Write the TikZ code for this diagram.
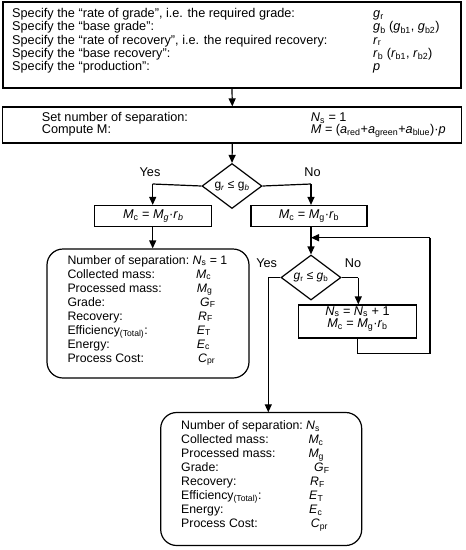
\documentclass[tikz,border=0pt]{standalone}
\usepackage{fontspec}
\setmainfont{Liberation Sans}
\usetikzlibrary{shapes.geometric,arrows.meta}
\newcommand\sbs[1]{\textsubscript{#1}}
\begin{document}
\begin{tikzpicture}[x=1pt,y=-1pt,
  box/.style={draw,line width=1.2pt,rectangle,inner sep=0pt},
  rbox/.style={box,rounded corners=16pt},
  dec/.style={draw,diamond,line width=1.2pt,inner sep=0pt,minimum width=60pt,minimum height=45pt},
  txt/.style={anchor=base west,inner sep=0pt,font=\fontsize{12.7}{14}\selectfont},
  rtxt/.style={anchor=base west,inner sep=0pt,font=\fontsize{12.3}{14}\selectfont},
  ctxt/.style={anchor=base,inner sep=0pt,font=\fontsize{12.7}{14}\selectfont},
  lbl/.style={inner sep=0pt,font=\fontsize{12.7}{14}\selectfont},
  wire/.style={line width=1.2pt},
  conn/.style={line width=1.2pt,-{Triangle[length=8pt,width=7pt]}}]
\useasboundingbox (0,0) rectangle (466,550);
% boxes
\node[box,minimum width=458pt,minimum height=86pt] (spec) at (232,45) {};
\node[box,minimum width=459pt,minimum height=36pt] (init) at (232.3,125) {};
\node[dec] (d1) at (232,186) {\fontsize{12}{13}\selectfont g\sbs{\textit{r}} ≤ g\sbs{\textit{b}}};
\node[box,minimum width=117pt,minimum height=21pt] (mcL) at (153.3,216) {\fontsize{12.7}{14}\selectfont\textit{M}\sbs{c} = \textit{M}\sbs{\textit{g}}·\textit{r}\sbs{\textit{b}}};
\node[box,minimum width=116pt,minimum height=21pt] (mcR) at (309,216) {\fontsize{12.7}{14}\selectfont\textit{M}\sbs{c} = \textit{M}\sbs{g}·\textit{r}\sbs{b}};
\node[rbox,minimum width=202pt,minimum height=129pt] (resL) at (148,313.5) {};
\node[dec] (d2) at (311,277.5) {\fontsize{12}{13}\selectfont\textit{g}\sbs{r} ≤ \textit{g}\sbs{b}};
\node[box,minimum width=118pt,minimum height=33pt] (loop) at (357.5,321.5) {};
\node[rbox,minimum width=201pt,minimum height=133pt] (resB) at (261.2,479) {};
% labels
\node[lbl] (yes1) at (150,172.5) {Yes};
\node[lbl] (no1) at (312.5,172.5) {No};
\node[lbl] (yes2) at (266.7,263) {Yes};
\node[lbl] (no2) at (353,263) {No};
% top box text
\node[txt] (s1) at (12,17.3) {Specify the “rate of grade”, i.e. the required grade:};
\node[txt] (s2) at (12,30.7) {Specify the “base grade”:};
\node[txt] (s3) at (12,44) {Specify the “rate of recovery”, i.e. the required recovery:};
\node[txt] (s4) at (12,57.3) {Specify the “base recovery”:};
\node[txt] (s5) at (12,70.7) {Specify the “production”:};
\node[txt] (v1) at (373,17.3) {\textit{g}\sbs{r}};
\node[txt] (v2) at (373,30.7) {\textit{g}\sbs{b} (\textit{g}\sbs{b1}, \textit{g}\sbs{b2})};
\node[txt] (v3) at (373,44) {\textit{r}\sbs{r}};
\node[txt] (v4) at (373,57.3) {\textit{r}\sbs{b} (\textit{r}\sbs{b1}, \textit{r}\sbs{b2})};
\node[txt] (v5) at (373,70.7) {\textit{p}};
% init text
\node[txt] (i1) at (41.7,121.2) {Set number of separation:};
\node[txt] (i2) at (41.7,133.6) {Compute M:};
\node[txt] (j1) at (310.7,121.2) {\textit{N}\sbs{s} = 1};
\node[txt] (j2) at (310.7,133.6) {\textit{M} = (\textit{a}\sbs{red}+\textit{a}\sbs{green}+\textit{a}\sbs{blue})·\textit{p}};
% loop text
\node[ctxt] (l1) at (357.5,315) {\textit{N}\sbs{s} = \textit{N}\sbs{s} + 1};
\node[ctxt] (l2) at (357.5,327.5) {\textit{M}\sbs{c} = \textit{M}\sbs{g}·\textit{r}\sbs{b}};
% left result text
\node[rtxt] (a1) at (67.3,264) {Number of separation:};
\node[rtxt] (a2) at (67.3,278) {Collected mass:};
\node[rtxt] (a3) at (67.3,292) {Processed mass:};
\node[rtxt] (a4) at (67.3,306) {Grade:};
\node[rtxt] (a5) at (67.3,320) {Recovery:};
\node[rtxt] (a6) at (67.3,334) {Efficiency\sbs{(Total)}:};
\node[rtxt] (a7) at (67.3,348) {Energy:};
\node[rtxt] (a8) at (67.3,362) {Process Cost:};
\node[rtxt] (b1) at (192.5,264) {\textit{N}\sbs{s} = 1};
\node[rtxt] (b2) at (196,278) {\textit{M}\sbs{c}};
\node[rtxt] (b3) at (196.7,292) {\textit{M}\sbs{g}};
\node[rtxt] (b4) at (200,306) {\textit{G}\sbs{F}};
\node[rtxt] (b5) at (198,320) {\textit{R}\sbs{F}};
\node[rtxt] (b6) at (196.7,334) {\textit{E}\sbs{T}};
\node[rtxt] (b7) at (196.7,348) {\textit{E}\sbs{c}};
\node[rtxt] (b8) at (198,362) {\textit{C}\sbs{pr}};
% bottom result text
\node[rtxt] (c1) at (181,429.5) {Number of separation:};
\node[rtxt] (c2) at (181,443.5) {Collected mass:};
\node[rtxt] (c3) at (181,457.5) {Processed mass:};
\node[rtxt] (c4) at (181,471.5) {Grade:};
\node[rtxt] (c5) at (181,485.5) {Recovery:};
\node[rtxt] (c6) at (181,499.5) {Efficiency\sbs{(Total)}:};
\node[rtxt] (c7) at (181,513.5) {Energy:};
\node[rtxt] (c8) at (181,527.5) {Process Cost:};
\node[rtxt] (e1) at (306,429.5) {\textit{N}\sbs{s}};
\node[rtxt] (e2) at (308.3,443.5) {\textit{M}\sbs{c}};
\node[rtxt] (e3) at (308.3,457.5) {\textit{M}\sbs{g}};
\node[rtxt] (e4) at (314,471.5) {\textit{G}\sbs{F}};
\node[rtxt] (e5) at (310,485.5) {\textit{R}\sbs{F}};
\node[rtxt] (e6) at (309,499.5) {\textit{E}\sbs{T}};
\node[rtxt] (e7) at (309,513.5) {\textit{E}\sbs{c}};
\node[rtxt] (e8) at (310.7,527.5) {\textit{C}\sbs{pr}};
% coordinates
\coordinate (pL) at (152.7,184);
\coordinate (pR) at (311,184);
\coordinate (join) at (311,237.7);
\coordinate (lpB) at (430,353.3);
\coordinate (lpT) at (430,237.7);
\coordinate (yL) at (268.3,277.5);
\coordinate (yB) at (268.3,412.3);
\coordinate (nR) at (358.3,277.5);
% connectors
\draw[conn] (spec.south) -- (init.north);
\draw[conn] (init.south) -- (d1.north);
\draw[wire] (d1.west) -- (pL);
\draw[conn] (pL) -- (pL |- mcL.north);
\draw[wire] (d1.east) -- (pR);
\draw[conn] (pR) -- (pR |- mcR.north);
\draw[conn] (pL |- mcL.south) -- (pL |- resL.north);
\draw[conn] (pR |- mcR.south) -- (d2.north);
\draw[wire] (d2.east) -- (nR);
\draw[conn] (nR) -- (nR |- loop.north);
\draw[wire] (d2.west) -- (yL);
\draw[conn] (yL) -- (yB);
\draw[wire] (loop.south) |- (lpB) -- (lpT);
\draw[conn] (lpT) -- (join);
\end{tikzpicture}
\end{document}
